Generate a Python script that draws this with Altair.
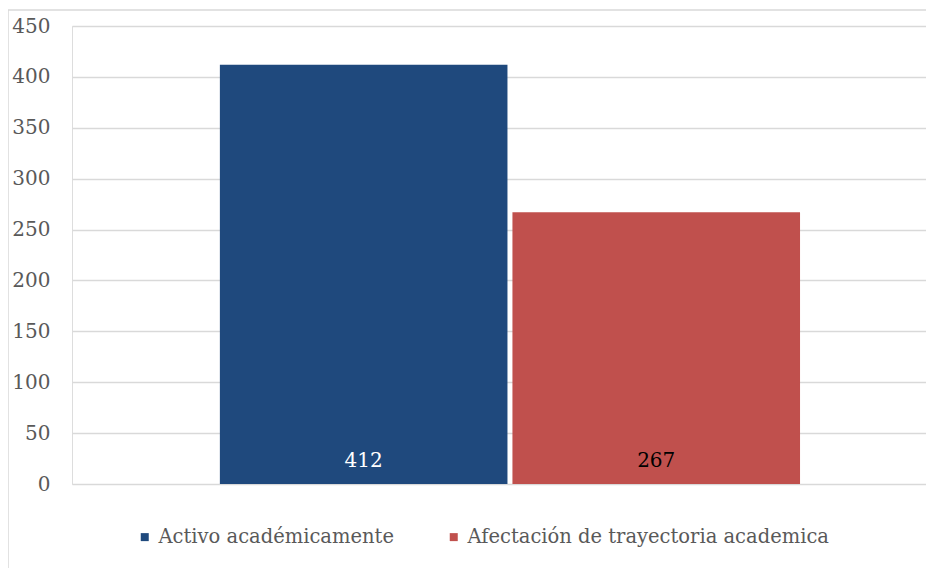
import altair as alt
import pandas as pd

series = ["Activo académicamente", "Afectación de trayectoria academica"]
values = [412, 267]
colors = ["#1F497D", "#C0504D"]
label_colors = ["#FFFFFF", "#000000"]
group = ["", ""]
y_ticks = [0, 50, 100, 150, 200, 250, 300, 350, 400, 450]

df = pd.DataFrame({"grupo": group, "serie": series, "valor": values, "tcolor": label_colors})

FONT = "DejaVu Serif"
W, H = 854, 458

x_enc = alt.X("grupo:N", axis=None,
              scale=alt.Scale(paddingInner=0, paddingOuter=0.236, align=0.54))
xo_enc = alt.XOffset("serie:N", sort=series,
                     scale=alt.Scale(paddingInner=0.017, paddingOuter=0))

bars = alt.Chart(df).mark_bar().encode(
    x=x_enc,
    xOffset=xo_enc,
    y=alt.Y("valor:Q", title=None,
            scale=alt.Scale(domain=[0, 450], nice=False),
            axis=alt.Axis(values=y_ticks, domain=False, ticks=False, labelPadding=22,
                          labelFont=FONT, labelFontSize=20, labelColor="#595959",
                          gridColor="#D9D9D9", gridWidth=1.5)),
    color=alt.Color("serie:N", sort=series,
                    scale=alt.Scale(domain=series, range=colors),
                    legend=alt.Legend(title=None, orient="none", direction="horizontal",
                                      legendX=63, legendY=501,
                                      symbolType="square", symbolSize=64,
                                      symbolStrokeWidth=0, labelOffset=4,
                                      columnPadding=50,
                                      labelFont=FONT, labelFontSize=19.5,
                                      labelColor="#595959", labelLimit=600)),
)

labels = alt.Chart(df).mark_text(dy=-23, font=FONT, fontSize=20, baseline="middle").encode(
    x=x_enc,
    xOffset=xo_enc,
    y=alt.datum(0),
    text=alt.Text("valor:Q"),
    color=alt.Color("tcolor:N", scale=None, legend=None),
)

frame_df = pd.DataFrame({"k": [0]})
top_border = alt.Chart(frame_df).mark_rule(color="#D9D9D9", strokeWidth=1.5).encode(
    x=alt.value(-64), x2=alt.value(W + 10), y=alt.value(-16))
left_border = alt.Chart(frame_df).mark_rule(color="#D9D9D9", strokeWidth=1.5).encode(
    x=alt.value(-64), y=alt.value(-16), y2=alt.value(H + 100))

chart = alt.layer(bars, labels, top_border, left_border).properties(
    width=W, height=H,
    autosize=alt.AutoSizeParams(type="none"),
    padding={"left": 64, "top": 18, "right": 0, "bottom": 84},
).configure_view(stroke=None).configure(background="white")

chart.save("out.html", embed_options={"renderer": "svg", "actions": False})
